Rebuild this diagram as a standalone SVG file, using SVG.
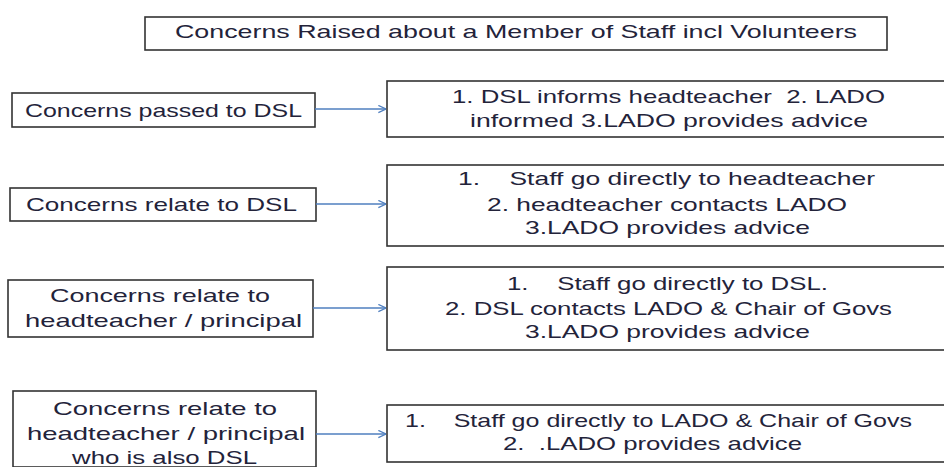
<svg xmlns="http://www.w3.org/2000/svg" width="944" height="467" viewBox="0 0 944 467">
<defs>
<style>
.box{fill:#fff;stroke:#333;stroke-width:1.6}
.t{font-family:"Liberation Sans",Arial,sans-serif;font-size:19px;fill:#23233a}
.c{fill:none;stroke:#4f7fbf;stroke-width:1.4}
</style>
<marker id="arr" viewBox="0 0 10 10" refX="9.5" refY="5" markerWidth="9" markerHeight="9" markerUnits="userSpaceOnUse" orient="auto">
<path d="M1,1 L9.5,5 L1,9" fill="none" stroke="#4f7fbf" stroke-width="1.4"/>
</marker>
</defs>
<rect width="944" height="467" fill="#fff"/>
<g id="title">
<rect class="box" x="145" y="17" width="742" height="33" stroke-width="2"/>
<text class="t" x="175" y="38" textLength="682" lengthAdjust="spacingAndGlyphs">Concerns Raised about a Member of Staff incl Volunteers</text>
</g>
<g id="c1">
<rect class="box" x="12" y="93" width="303" height="34"/>
<text class="t" x="25" y="117" textLength="277" lengthAdjust="spacingAndGlyphs">Concerns passed to DSL</text>
</g>
<g id="a1">
<rect class="box" x="387" y="81" width="570" height="56"/>
<text class="t" x="452" y="103" textLength="433" lengthAdjust="spacingAndGlyphs" xml:space="preserve">1. DSL informs headteacher  2. LADO</text>
<text class="t" x="470" y="127" textLength="398" lengthAdjust="spacingAndGlyphs">informed 3.LADO provides advice</text>
</g>
<g id="c2">
<rect class="box" x="10" y="188" width="306" height="33"/>
<text class="t" x="26" y="211" textLength="271" lengthAdjust="spacingAndGlyphs">Concerns relate to DSL</text>
</g>
<g id="a2">
<rect class="box" x="387" y="165" width="570" height="81"/>
<text class="t" x="458" y="185" textLength="417" lengthAdjust="spacingAndGlyphs" xml:space="preserve">1.    Staff go directly to headteacher</text>
<text class="t" x="487" y="211" textLength="360" lengthAdjust="spacingAndGlyphs">2. headteacher contacts LADO</text>
<text class="t" x="525" y="234" textLength="285" lengthAdjust="spacingAndGlyphs">3.LADO provides advice</text>
</g>
<g id="c3">
<rect class="box" x="8" y="280" width="305" height="57"/>
<text class="t" x="50" y="302" textLength="220" lengthAdjust="spacingAndGlyphs">Concerns relate to</text>
<text class="t" x="25" y="327" textLength="277" lengthAdjust="spacingAndGlyphs">headteacher / principal</text>
</g>
<g id="a3">
<rect class="box" x="387" y="267" width="570" height="83"/>
<text class="t" x="507" y="290" textLength="321" lengthAdjust="spacingAndGlyphs" xml:space="preserve">1.    Staff go directly to DSL.</text>
<text class="t" x="445" y="315" textLength="447" lengthAdjust="spacingAndGlyphs">2. DSL contacts LADO &amp; Chair of Govs</text>
<text class="t" x="525" y="338" textLength="285" lengthAdjust="spacingAndGlyphs">3.LADO provides advice</text>
</g>
<g id="c4">
<rect class="box" x="13" y="391" width="303" height="76"/>
<text class="t" x="53" y="415" textLength="224" lengthAdjust="spacingAndGlyphs">Concerns relate to</text>
<text class="t" x="27" y="440" textLength="278" lengthAdjust="spacingAndGlyphs">headteacher / principal</text>
<text class="t" x="72" y="464" textLength="185" lengthAdjust="spacingAndGlyphs">who is also DSL</text>
</g>
<g id="a4">
<rect class="box" x="387" y="405" width="570" height="57"/>
<text class="t" x="405" y="427" textLength="507" lengthAdjust="spacingAndGlyphs" xml:space="preserve">1.    Staff go directly to LADO &amp; Chair of Govs</text>
<text class="t" x="503" y="450" textLength="299" lengthAdjust="spacingAndGlyphs" xml:space="preserve">2.  .LADO provides advice</text>
</g>
<g id="connectors">
<line class="c" x1="315" y1="109" x2="386" y2="109" marker-end="url(#arr)"/>
<line class="c" x1="316" y1="204" x2="386" y2="204" marker-end="url(#arr)"/>
<line class="c" x1="313" y1="308" x2="386" y2="308" marker-end="url(#arr)"/>
<line class="c" x1="316" y1="434" x2="386" y2="434" marker-end="url(#arr)"/>
</g>
</svg>
